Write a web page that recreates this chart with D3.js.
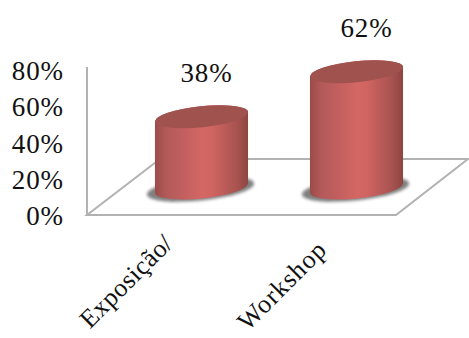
<!DOCTYPE html>
<html><head><meta charset="utf-8">
<script src="https://cdn.jsdelivr.net/npm/d3@7"></script>
<style>html,body{margin:0;padding:0;background:#fff;overflow:hidden}svg{display:block}text{font-family:"Liberation Serif",serif;fill:#111}</style>
</head><body><script>
const categories = ["Exposição/", "Workshop"];
const values = [38, 62];
const tickValues = [0, 20, 40, 60, 80];

const width = 469, height = 338;
const svg = d3.select("body").append("svg").attr("width", width).attr("height", height);
const defs = svg.append("defs");

// horizontal shading across the cylinder wall
const grad = defs.append("linearGradient").attr("id", "wall");
[[0, "#9a4c48"], [0.12, "#b3595a"], [0.5, "#d26764"], [0.62, "#cf6461"], [0.88, "#a85350"], [1, "#8c4542"]]
  .forEach(([o, c]) => grad.append("stop").attr("offset", o).attr("stop-color", c));
defs.append("filter").attr("id", "soft").attr("x", "-20%").attr("y", "-50%").attr("width", "140%").attr("height", "200%")
  .append("feGaussianBlur").attr("stdDeviation", 1.8);

const y = d3.scaleLinear().domain([0, 80]).range([216, 71]);
const barHeight = d3.scaleLinear().domain([0, 80]).range([0, 150]);
const x = d3.scaleBand().domain(categories).range([124, 434]);

// back wall axis and floor plane
const wallColor = "#b2b2b2";
const floor = [[87, 215], [396, 215], [468, 159], [160, 159]];
svg.append("path").attr("d", d3.line()(floor) + "Z")
  .attr("fill", "#fff").attr("stroke", wallColor).attr("stroke-width", 2);
svg.append("line").attr("x1", 87).attr("x2", 87).attr("y1", y(0)).attr("y2", 67)
  .attr("stroke", wallColor).attr("stroke-width", 2);

// value axis labels
svg.selectAll(".tick-label").data(tickValues).join("text")
  .attr("class", "tick-label")
  .attr("x", 64).attr("y", d => y(d) + 9)
  .attr("text-anchor", "end").attr("font-size", 27).attr("letter-spacing", 0.9)
  .text(d => d + "%");

// cylinders
const rx = 46.8, ry = 10.5, tilt = -6, baseY = 188;
const rad = tilt * Math.PI / 180;
const ex = rx * Math.cos(rad), ey = rx * Math.sin(rad);

const bars = svg.selectAll(".bar").data(categories.map((c, i) => ({ c, v: values[i] }))).join("g")
  .attr("class", "bar")
  .attr("transform", d => `translate(${x(d.c) + x.bandwidth() / 2},0)`);

bars.append("ellipse").attr("class", "shadow")
  .attr("rx", rx + 7).attr("ry", ry + 1)
  .attr("transform", `translate(-1,${baseY + 1}) rotate(${tilt})`)
  .attr("fill", "#555").attr("opacity", 0.75).attr("filter", "url(#soft)");

bars.append("path").attr("class", "body")
  .attr("fill", "url(#wall)")
  .attr("d", d => {
    const top = baseY - barHeight(d.v), bot = baseY;
    return `M${-ex},${top - ey}L${-ex},${bot - ey}` +
      `A${rx},${ry} ${tilt} 0 0 ${ex},${bot + ey}` +
      `L${ex},${top + ey}A${rx},${ry} ${tilt} 0 0 ${-ex},${top - ey}Z`;
  });

bars.append("ellipse").attr("class", "cap")
  .attr("rx", rx).attr("ry", ry)
  .attr("transform", d => `translate(0,${baseY - barHeight(d.v)}) rotate(${tilt})`)
  .attr("fill", "#a0524e");

// data labels above each cylinder
bars.append("text")
  .attr("x", (d, i) => i ? 10 : 5)
  .attr("y", d => baseY - barHeight(d.v) - 34.5)
  .attr("text-anchor", "middle").attr("font-size", 27).attr("letter-spacing", 0.9)
  .text(d => d.v + "%");

// rotated category labels
svg.selectAll(".cat").data(categories).join("text")
  .attr("class", "cat")
  .attr("text-anchor", "end").attr("font-size", 26)
  .attr("letter-spacing", (d, i) => i ? 1 : 0.4)
  .attr("transform", (d, i) => `translate(${x(d) + x.bandwidth() / 2 + (i ? -28 : -27)},${i ? 251 : 245}) rotate(-45)`)
  .text(d => d);
</script></body></html>
